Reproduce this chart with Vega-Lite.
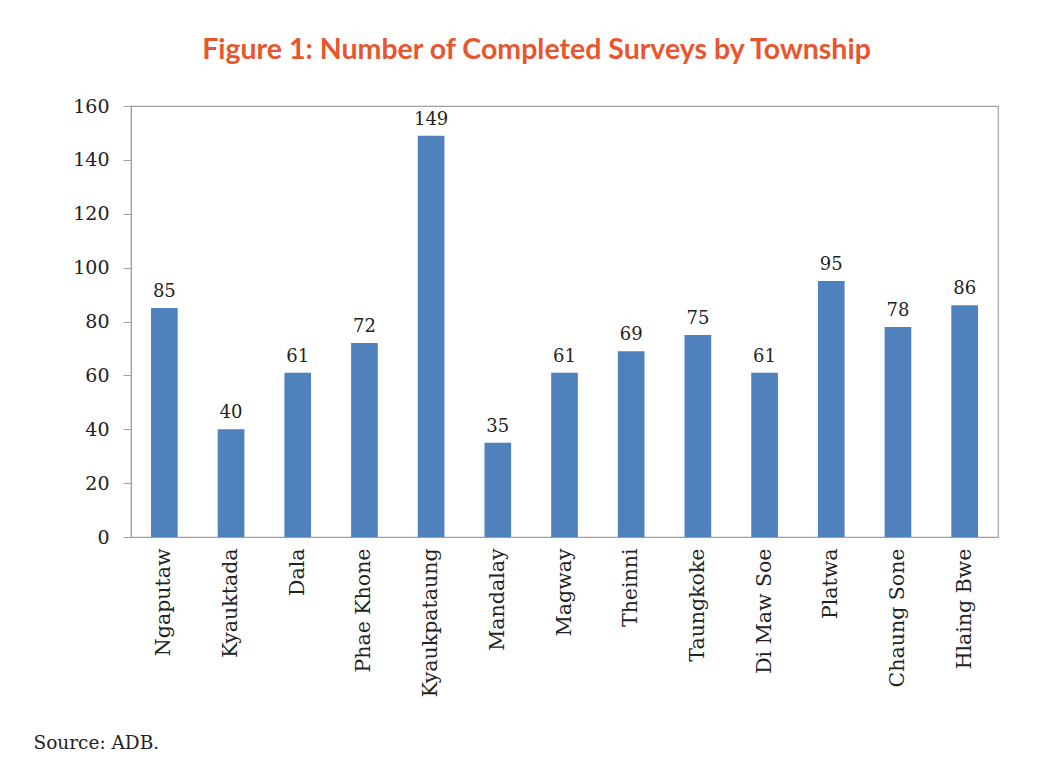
{
  "$schema": "https://vega.github.io/schema/vega-lite/v6.json",
  "autosize": "none",
  "width": 867,
  "height": 431,
  "padding": {"left": 131, "top": 106, "right": 51, "bottom": 228},
  "background": "white",
  "config": {
    "font": "DejaVu Serif",
    "view": {"stroke": "#a0a0a0", "strokeWidth": 1.2}
  },
  "title": {
    "text": "Figure 1: Number of Completed  Surveys by Township",
    "font": "Lato",
    "fontWeight": "bold",
    "fontSize": 28.5,
    "color": "#E8552F",
    "anchor": "middle",
    "dx": -28,
    "offset": 33
  },
  "data": {
    "values": [
      {"township": "Ngaputaw", "surveys": 85},
      {"township": "Kyauktada", "surveys": 40},
      {"township": "Dala", "surveys": 61},
      {"township": "Phae Khone", "surveys": 72},
      {"township": "Kyaukpataung", "surveys": 149},
      {"township": "Mandalay", "surveys": 35},
      {"township": "Magway", "surveys": 61},
      {"township": "Theinni", "surveys": 69},
      {"township": "Taungkoke", "surveys": 75},
      {"township": "Di Maw Soe", "surveys": 61},
      {"township": "Platwa", "surveys": 95},
      {"township": "Chaung Sone", "surveys": 78},
      {"township": "Hlaing Bwe", "surveys": 86}
    ]
  },
  "encoding": {
    "x": {
      "field": "township",
      "type": "nominal",
      "sort": null,
      "scale": {"paddingInner": 0.6, "paddingOuter": 0.3},
      "axis": {
        "title": "Source: ADB.",
        "titleFont": "DejaVu Serif",
        "titleFontWeight": "normal",
        "titleFontSize": 18.5,
        "titleColor": "#222222",
        "titleAnchor": "start",
        "titleAlign": "left",
        "titleBaseline": "alphabetic",
        "titleX": -98,
        "titleY": 211,
        "labelAngle": -90,
        "labelFontSize": 20.5,
        "labelColor": "#222222",
        "labelPadding": 11,
        "ticks": false,
        "domainColor": "#a0a0a0",
        "domainWidth": 1.2
      }
    },
    "y": {
      "field": "surveys",
      "type": "quantitative",
      "scale": {"domain": [0, 160]},
      "axis": {
        "title": null,
        "values": [0, 20, 40, 60, 80, 100, 120, 140, 160],
        "grid": false,
        "labelFontSize": 19,
        "labelColor": "#222222",
        "labelPadding": 14,
        "tickSize": 8,
        "tickColor": "#a0a0a0",
        "domainColor": "#a0a0a0",
        "domainWidth": 1.2
      }
    }
  },
  "layer": [
    {"mark": {"type": "bar", "color": "#4F81BD"}},
    {
      "mark": {"type": "text", "dy": -7, "fontSize": 18, "color": "#222222", "baseline": "bottom"},
      "encoding": {"text": {"field": "surveys", "type": "quantitative"}}
    }
  ]
}
